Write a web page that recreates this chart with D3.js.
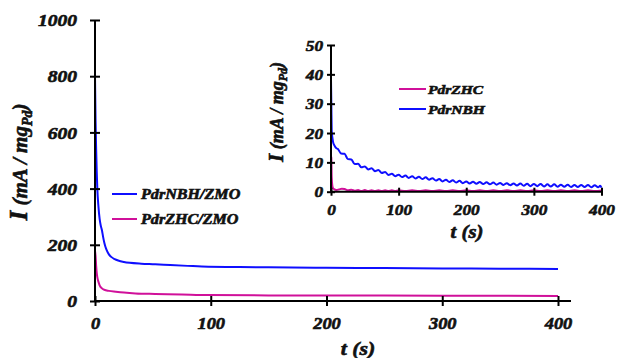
<!DOCTYPE html>
<html>
<head>
<meta charset="utf-8">
<script src="https://cdn.jsdelivr.net/npm/d3@7"></script>
<style>
  body { margin: 0; background: #fff; }
</style>
</head>
<body>
<svg width="617" height="358"></svg>
<script>
// main chart data (t in s, I in mA/mgPd)
const mainNbhT = [0, 0.5, 1, 1.5, 2, 3, 4, 5, 6, 7, 8, 9, 10, 12, 14, 17, 20, 25, 30, 40, 52, 65, 80, 98, 125, 150, 200, 250, 300, 350, 400];
const mainNbhI = [800, 640, 540, 460, 400, 335, 292, 268, 252, 228, 208, 193, 182, 166, 157, 149, 144, 139, 136, 133, 131, 128, 125, 122, 121, 120, 118, 117, 116, 115, 114];
const mainZhcT = [0, 0.5, 1, 1.5, 2, 3, 4, 6, 8, 12, 18, 25, 35, 52, 75, 98, 150, 200, 300, 400];
const mainZhcI = [178, 160, 125, 100, 85, 68, 56, 45, 40, 36, 33, 30, 27, 25, 23, 21, 20, 19.5, 19, 18];

// inset data
const insetNbhT = [0, 0.5, 1, 2, 3, 5, 8,
  10, 15, 20, 25, 30, 35, 40, 45, 50, 55, 60, 65, 70, 75, 80, 85, 90, 95, 100,
  105, 110, 115, 120, 125, 130, 135, 140, 145, 150, 155, 160, 165, 170, 175, 180, 185, 190, 195, 200,
  205, 210, 215, 220, 225, 230, 235, 240, 245, 250, 255, 260, 265, 270, 275, 280, 285, 290, 295, 300,
  305, 310, 315, 320, 325, 330, 335, 340, 345, 350, 355, 360, 365, 370, 375, 380, 385, 390, 395, 398, 400];
const insetNbhI = [38, 30, 21, 18.5, 17, 15.8, 14.8,
  14.6, 13.0, 12.9, 11.1, 11.0, 9.4, 9.5, 8.3, 8.6, 7.6, 8.0, 7.0, 7.4, 6.4, 6.7, 5.7, 6.1, 5.3, 5.8,
  5.0, 5.5, 4.7, 5.3, 4.5, 5.1, 4.3, 4.9, 4.1, 4.6, 3.8, 4.3, 3.5, 4.1, 3.3, 3.9, 3.1, 3.7, 2.9, 3.5,
  2.8, 3.4, 2.7, 3.3, 2.6, 3.2, 2.5, 3.1, 2.4, 3.0, 2.3, 2.9, 2.2, 2.8, 2.1, 2.8, 2.0, 2.7, 1.9, 2.6,
  1.9, 2.6, 1.8, 2.5, 1.8, 2.5, 1.7, 2.4, 1.7, 2.4, 1.6, 2.3, 1.6, 2.3, 1.6, 2.3, 1.5, 2.2, 1.5, 2.0, 1.4];
const insetZhcT = [0, 0.5, 1, 2, 3, 5, 8, 12, 16, 20, 25,
  30, 35, 40, 45, 50, 55, 60, 65, 70, 75, 80, 85, 90, 95, 100, 110, 120, 130, 140, 150, 160, 170, 180, 190, 200,
  210, 220, 230, 240, 250, 260, 270, 280, 290, 300, 310, 320, 330, 340, 350, 360, 370, 380, 390, 400];
const insetZhcI = [12, 11.5, 5, 2, 1.2, 0.8, 0.6, 0.8, 1.0, 0.9, 0.5,
  0.7, 0.3, 0.6, 0.2, 0.6, 0.2, 0.5, 0.2, 0.5, 0.2, 0.5, 0.2, 0.5, 0.2, 0.5, 0.2, 0.5, 0.2, 0.5, 0.2, 0.5, 0.2, 0.5, 0.2, 0.5,
  0.2, 0.5, 0.2, 0.5, 0.2, 0.5, 0.2, 0.5, 0.2, 0.5, 0.2, 0.5, 0.2, 0.5, 0.2, 0.5, 0.2, 0.5, 0.2, 0.4];

const mainTicksX = [0, 100, 200, 300, 400];
const mainTicksY = [0, 200, 400, 600, 800, 1000];
const insetTicksX = [0, 100, 200, 300, 400];
const insetTicksY = [0, 10, 20, 30, 40, 50];

const blue = "#0f0fff", pink = "#d0109a";

const svg = d3.select("svg");

const zip = (ts, vs) => ts.map((t, i) => [t, vs[i]]);

// draws a pair of crossing-tick axes
function drawAxes(g, x, y, xTicks, yTicks, opt) {
    const [x0, x1] = x.range();
    const [y0, y1] = y.range();

    const ya = g.append("g").attr("transform", `translate(${x0},0)`)
        .call(d3.axisLeft(y).tickValues(yTicks).tickFormat(d3.format("d")).tickSize(opt.tick).tickPadding(opt.ypad));
    ya.select(".domain").remove();
    ya.selectAll("line").attr("x1", -opt.tick).attr("x2", opt.tick).attr("stroke", "#000").attr("stroke-width", 2);
    ya.selectAll("text").attr("font-size", opt.yfont).attr("dy", "0.34em");

    const xa = g.append("g").attr("transform", `translate(0,${y0})`)
        .call(d3.axisBottom(x).tickValues(xTicks).tickFormat(d3.format("d")).tickSize(opt.tick).tickPadding(opt.xpad));
    xa.select(".domain").remove();
    xa.selectAll("line").attr("y1", -opt.tick).attr("y2", opt.tick).attr("stroke", "#000").attr("stroke-width", 2);
    xa.selectAll("text").attr("font-size", opt.xfont);

    g.append("line").attr("x1", x0).attr("x2", x0).attr("y1", y0).attr("y2", y1)
        .attr("stroke", "#000").attr("stroke-width", 2);
    g.append("line").attr("x1", x0).attr("x2", opt.xEnd).attr("y1", y0).attr("y2", y0)
        .attr("stroke", "#000").attr("stroke-width", 2);
}

function drawLine(g, x, y, pts, color, w) {
    const line = d3.line().x(d => x(d[0])).y(d => y(d[1])).curve(d3.curveMonotoneX);
    g.append("path").datum(pts).attr("d", line)
        .attr("fill", "none").attr("stroke", color).attr("stroke-width", w);
}

// ---- main chart
const mx = d3.scaleLinear().domain([0, 400]).range([95, 558]);
const my = d3.scaleLinear().domain([0, 1000]).range([301, 20]);
const main = svg.append("g");

drawLine(main, mx, my, zip(mainZhcT, mainZhcI), pink, 2);
drawLine(main, mx, my, zip(mainNbhT, mainNbhI), blue, 2);
drawAxes(main, mx, my, mainTicksX, mainTicksY, { tick: 5, ypad: 13, xpad: 12, yfont: 17, xfont: 16, xEnd: 571 });

main.append("text").attr("class", "stretch").attr("x", 358).attr("y", 355)
    .attr("text-anchor", "middle").attr("font-size", 19).text("t  (s)");

const myTitle = main.append("text").attr("transform", "translate(27,162) rotate(-90)")
    .attr("text-anchor", "middle").attr("font-size", 21);
myTitle.append("tspan").attr("font-size", 25).text("I");
myTitle.append("tspan").text(" (mA / mg");
myTitle.append("tspan").attr("font-size", 14).attr("dy", 5).text("Pd");
myTitle.append("tspan").attr("dy", -5).text(")");

const mainLegend = [["PdrNBH/ZMO", blue, 194], ["PdrZHC/ZMO", pink, 219]];
mainLegend.forEach(([name, c, yy]) => {
    main.append("line").attr("x1", 112).attr("x2", 137).attr("y1", yy).attr("y2", yy)
        .attr("stroke", c).attr("stroke-width", 2);
    main.append("text").attr("class", "stretch").attr("x", 141).attr("y", yy + 5)
        .attr("font-size", 14).text(name);
});

// ---- inset
const ix = d3.scaleLinear().domain([0, 400]).range([331, 601.5]);
const iy = d3.scaleLinear().domain([0, 50]).range([191.7, 45]);
const inset = svg.append("g");

drawLine(inset, ix, iy, zip(insetNbhT, insetNbhI), blue, 2);
drawLine(inset, ix, iy, zip(insetZhcT, insetZhcI), pink, 2);
drawAxes(inset, ix, iy, insetTicksX, insetTicksY, { tick: 4, ypad: 4, xpad: 9, yfont: 15, xfont: 15, xEnd: 603 });

inset.append("text").attr("class", "stretch").attr("x", 467).attr("y", 238)
    .attr("text-anchor", "middle").attr("font-size", 18).text("t (s)");

const iyTitle = inset.append("text").attr("transform", "translate(283,112) rotate(-90)")
    .attr("text-anchor", "middle").attr("font-size", 18);
iyTitle.append("tspan").attr("font-size", 21).text("I");
iyTitle.append("tspan").text(" (mA / mg");
iyTitle.append("tspan").attr("font-size", 12).attr("dy", 4).text("Pd");
iyTitle.append("tspan").attr("dy", -4).text(")");

const insetLegend = [["PdrZHC", pink, 89], ["PdrNBH", blue, 109]];
insetLegend.forEach(([name, c, yy]) => {
    inset.append("line").attr("x1", 399).attr("x2", 426).attr("y1", yy).attr("y2", yy)
        .attr("stroke", c).attr("stroke-width", 2);
    inset.append("text").attr("class", "stretch").attr("x", 428).attr("y", yy + 5)
        .attr("font-size", 13.5).text(name);
});

// every label is heavy italic Times, thickened a bit with an outline
svg.selectAll("text")
    .attr("font-family", "'Liberation Serif', 'Times New Roman', serif")
    .attr("font-weight", "bold")
    .attr("font-style", "italic")
    .attr("fill", "#111")
    .attr("stroke", "#111")
    .attr("stroke-width", 0.6);

// the source picture is a little wider than tall, so stretch the glyphs sideways
svg.selectAll(".tick text, text.stretch").each(function() {
    const w = this.getComputedTextLength();
    d3.select(this).attr("textLength", w * 1.15).attr("lengthAdjust", "spacingAndGlyphs");
});
</script>
</body>
</html>
